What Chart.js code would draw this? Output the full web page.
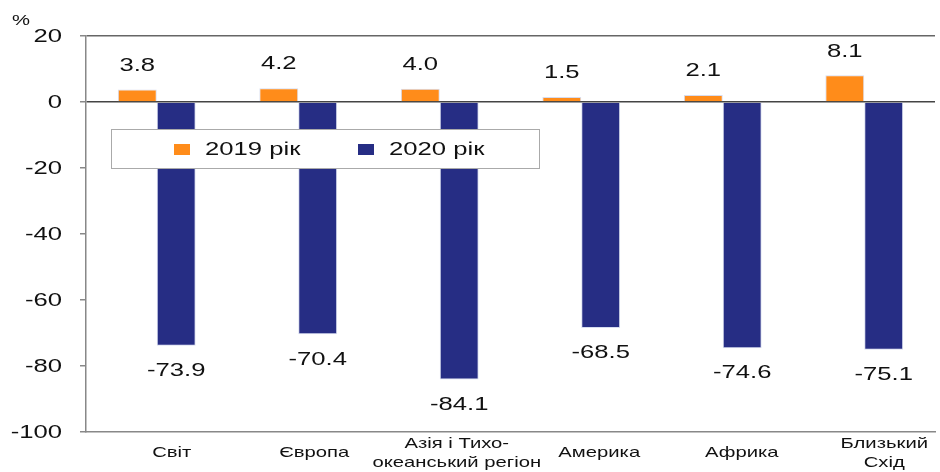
<!DOCTYPE html>
<html>
<head>
<meta charset="utf-8">
<script src="https://cdn.jsdelivr.net/npm/chart.js@4"></script>
<style>
  html, body { margin: 0; padding: 0; background: #fff; }
  #wrap { width: 940px; height: 472px; position: relative; }
</style>
</head>
<body>
<div id="wrap"><canvas id="chart"></canvas></div>
<script>
// Data
const regions = [['Світ'], ['Європа'], ['Азія і Тихо-', 'океанський регіон'], ['Америка'], ['Африка'], ['Близький', 'Схід']];
const values2019 = [3.8, 4.2, 4.0, 1.5, 2.1, 8.1];
const values2020 = [-73.9, -70.4, -84.1, -68.5, -74.6, -75.1];
const seriesNames = ['2019 рік', '2020 рік'];
const yTicks = [20, 0, -20, -40, -60, -80, -100];

const FONT = '"Liberation Sans", Arial, sans-serif';
const SX = 1.35; // the source picture is stretched sideways

// draw text widened horizontally
function wideText(ctx, text, x, y, align) {
    ctx.save();
    ctx.translate(x, y);
    ctx.scale(SX, 1);
    ctx.textAlign = align;
    ctx.fillText(text, 0, 0);
    ctx.restore();
}

// Legend box drawn inside the plot, over the bars
const boxLegend = {
    id: 'boxLegend',
    afterDatasetsDraw(chart) {
        const ctx = chart.ctx;
        ctx.save();
        ctx.fillStyle = '#fff';
        ctx.strokeStyle = '#aaa';
        ctx.lineWidth = 1;
        ctx.fillRect(111, 129, 428, 39);
        ctx.strokeRect(111.5, 129.5, 428, 39);
        const starts = [174, 358];
        chart.data.datasets.forEach((ds, i) => {
            ctx.fillStyle = ds.backgroundColor;
            ctx.fillRect(starts[i], 144, 16, 11);
            ctx.fillStyle = '#111';
            ctx.font = '19px ' + FONT;
            ctx.textBaseline = 'middle';
            wideText(ctx, ds.label, starts[i] + 31, 150, 'left');
        });
        ctx.restore();
    }
};

// Value labels, axis labels and the % sign
const extras = {
    id: 'extras',
    afterDraw(chart) {
        const ctx = chart.ctx;
        ctx.save();
        ctx.fillStyle = '#111';
        ctx.textBaseline = 'middle';
        ctx.font = '19px ' + FONT;
        chart.data.datasets.forEach((ds, i) => {
            chart.getDatasetMeta(i).data.forEach((bar, j) => {
                const v = ds.data[j];
                const y = v >= 0 ? bar.y - 24 : bar.y + 25;
                wideText(ctx, v.toFixed(1), bar.x, y, 'center');
            });
        });
        // y tick labels
        const ys = chart.scales.y;
        yTicks.forEach(v => wideText(ctx, String(v), 62, ys.getPixelForValue(v) + 1, 'right'));
        // category labels (sit a bit right of the category centre in the source)
        const xs = chart.scales.x;
        ctx.font = '15px ' + FONT;
        regions.forEach((lines, i) => {
            const x = xs.getPixelForValue(i) + 15 + i;
            const top = 453 - (lines.length - 1) * 19 / 2;
            lines.forEach((t, k) => wideText(ctx, t, x, top + k * 19, 'center'));
        });
        wideText(ctx, '%', 12, 21, 'left');
        ctx.restore();
    }
};

const ctx = document.getElementById('chart').getContext('2d');
new Chart(ctx, {
    type: 'bar',
    data: {
        labels: regions,
        datasets: [{
            label: seriesNames[0],
            data: values2019,
            backgroundColor: '#FF8C1A',
            borderColor: '#d6dcef',
            borderWidth: 1
        }, {
            label: seriesNames[1],
            data: values2020,
            backgroundColor: '#262D84',
            borderColor: '#d6dcef',
            borderWidth: 1
        }]
    },
    options: {
        responsive: true,
        maintainAspectRatio: false,
        animation: false,
        layout: { padding: { top: 36, right: 5, left: 0, bottom: 0 } },
        plugins: {
            legend: { display: false },
            tooltip: { enabled: false }
        },
        datasets: {
            bar: { categoryPercentage: 0.55, barPercentage: 1 }
        },
        scales: {
            x: {
                grid: { display: false },
                border: { color: '#888', width: 1.5 },
                ticks: { display: false },
                afterFit: (s) => { s.height = 40; }
            },
            y: {
                min: -100,
                max: 20,
                afterBuildTicks: (s) => { s.ticks = yTicks.map(v => ({ value: v })); },
                afterFit: (s) => { s.width = 86; },
                grid: {
                    color: (c) => c.tick.value === 0 ? '#444' : (c.tick.value === 20 ? '#666' : 'transparent'),
                    lineWidth: 1.5,
                    tickColor: '#888',
                    tickLength: 6
                },
                border: { color: '#888', width: 1.5 },
                ticks: { display: false }
            }
        }
    },
    plugins: [boxLegend, extras]
});
</script>
</body>
</html>
